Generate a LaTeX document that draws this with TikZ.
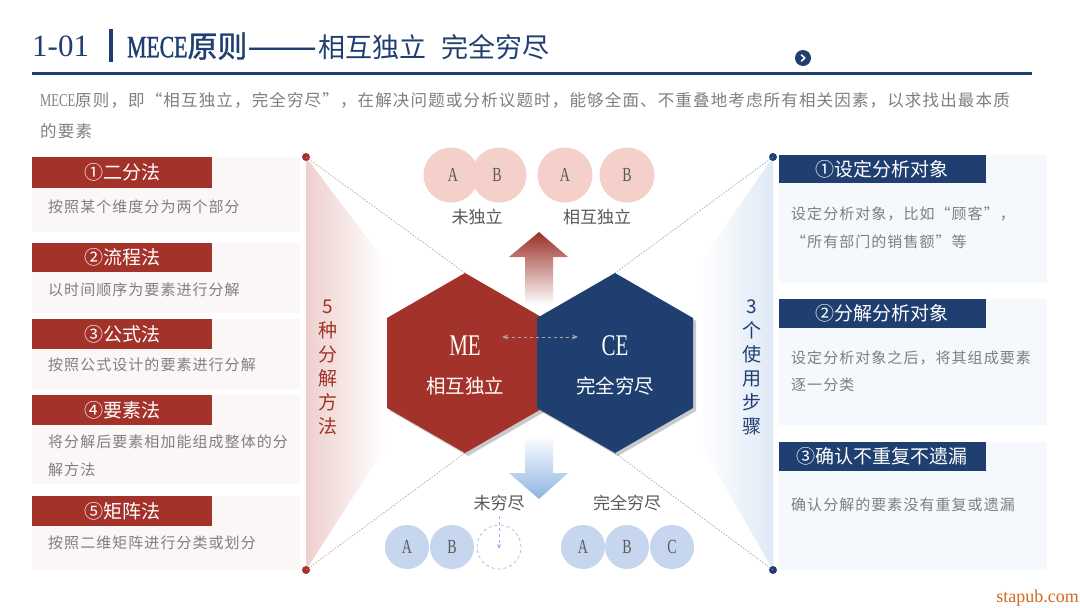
\documentclass[tikz,border=0pt]{standalone}
\usepackage{fontspec}
\setmainfont{Noto Sans CJK SC}
\newfontfamily\spf[LetterSpace=7]{Noto Sans CJK SC}
\newfontfamily\cjkb[FakeBold=1.2]{Noto Sans CJK SC}
\newfontfamily\latc[FakeStretch=0.7]{Liberation Serif}
\newfontfamily\latcb[FakeStretch=0.7,FakeBold=1.2]{Liberation Serif}
\newfontfamily\latn{Liberation Serif}
\usetikzlibrary{shadows,arrows.meta}
\newcommand\fsz[1]{\fontsize{#1}{#1}\selectfont}
\newcommand\fszl[2]{\fontsize{#1}{#2}\selectfont}
\definecolor{mred}{HTML}{A3322A}
\definecolor{mnavy}{HTML}{1F3F70}
\definecolor{tgrey}{HTML}{7F7F7F}
\definecolor{dgrey}{HTML}{595959}
\definecolor{pinkc}{HTML}{F5D0CB}
\definecolor{bluec}{HTML}{C6D6EE}
\definecolor{lbg}{HTML}{FBF7F6}
\definecolor{rbg}{HTML}{F5F8FC}
\definecolor{wedgered}{HTML}{EDD0CD}
\definecolor{wedgeblue}{HTML}{E0E9F6}
\definecolor{arrblue}{HTML}{8DB4E2}
\definecolor{wmark}{HTML}{D2691E}
\begin{document}
\begin{tikzpicture}[x=1pt,y=-1pt,
  every node/.style={inner sep=0pt},
  lbgbox/.style={fill=lbg,draw=none},
  rbgbox/.style={fill=rbg,draw=none},
  redhead/.style={fill=mred,draw=none},
  bluehead/.style={fill=mnavy,draw=none},
  htext/.style={text=white,font=\fsz{19}},
  dtext/.style={text=tgrey,font=\spf\fsz{15},anchor=west},
  vtext/.style={font=\fszl{19}{24},align=center},
  dotline/.style={dash pattern=on 1.5pt off 1.5pt,line width=0.6pt},
  enddot/.style={circle,minimum size=8pt},
  pinkcirc/.style={circle,fill=pinkc,minimum size=55pt},
  bluecirc/.style={circle,fill=bluec,minimum size=44pt},
  abc/.style={text=dgrey,font=\latc\fsz{20}},
  clabel/.style={text=dgrey,font=\fsz{17}},
  ttl/.style={anchor=west,text=mnavy},
  hexshadow/.style={drop shadow={shadow xshift=3pt,shadow yshift=-3pt,opacity=0.35,fill=black!60}}
]
\useasboundingbox (0,0) rectangle (1080,608);
\fill[white] (0,0) rectangle (1080,608);

% ---------- title ----------
\node[ttl,font=\latn\fsz{31}] (tnum) at (32,46) {1-01};
\fill[mnavy] (109,29) rectangle (113,62);
\node[ttl,font=\cjkb\fsz{30}] (ttxt) at (127,46) {{\latcb\fsz{31}MECE}原则\scalebox{1.38}[1]{——}};
\node[ttl,font=\fsz{27}] (ttxt2) at (318,47) {相互独立};
\node[ttl,font=\fsz{27}] (ttxt3) at (441,47) {完全穷尽};
\draw[mnavy,line width=3pt] (32,73) -- (1032,73);
\node[circle,fill=mnavy,minimum size=16pt] (icon) at (803,58) {};
\draw[white,line width=1.6pt,line cap=round,line join=round] ([xshift=-1.5pt,yshift=3pt]icon.center) -- ([xshift=1.8pt]icon.center) -- ([xshift=-1.5pt,yshift=-3pt]icon.center);

% ---------- subtitle ----------
\node[anchor=west,text=tgrey,font=\spf\fsz{16.5}] (sub1) at (40,100) {{\latc\fsz{18}MECE}原则，即“相互独立，完全穷尽”，在解决问题或分析议题时，能够全面、不重叠地考虑所有相关因素，以求找出最本质};
\node[anchor=west,text=tgrey,font=\spf\fsz{16.5}] (sub2) at (40,131) {的要素};

% ---------- wedges ----------
\shade[left color=wedgered,right color=white] (306,157) -- (385,262) -- (385,447) -- (306,570) -- cycle;
\shade[left color=white,right color=wedgeblue] (773,157) -- (700,263) -- (700,443) -- (773,570) -- cycle;

% ---------- left boxes ----------
\fill[lbgbox] (32,157) rectangle (300,232);
\fill[lbgbox] (32,243) rectangle (300,313);
\fill[lbgbox] (32,319) rectangle (300,389);
\fill[lbgbox] (32,395) rectangle (300,484);
\fill[lbgbox] (32,496) rectangle (300,570);
\fill[redhead] (32,157) rectangle (212,188);
\fill[redhead] (32,243) rectangle (212,272);
\fill[redhead] (32,319) rectangle (212,349);
\fill[redhead] (32,395) rectangle (212,425);
\fill[redhead] (32,496) rectangle (212,526);
\node[htext] (l1h) at (122,172) {①二分法};
\node[htext] (l2h) at (122,257.5) {②流程法};
\node[htext] (l3h) at (122,334) {③公式法};
\node[htext] (l4h) at (122,410) {④要素法};
\node[htext] (l5h) at (122,511) {⑤矩阵法};
\node[dtext] (l1d) at (48,207) {按照某个维度分为两个部分};
\node[dtext] (l2d) at (48,290) {以时间顺序为要素进行分解};
\node[dtext] (l3d) at (48,365) {按照公式设计的要素进行分解};
\node[dtext] (l4d) at (48,442) {将分解后要素相加能组成整体的分};
\node[dtext] (l4e) at (48,470) {解方法};
\node[dtext] (l5d) at (48,543) {按照二维矩阵进行分类或划分};

% ---------- right boxes ----------
\fill[rbgbox] (779,155) rectangle (1047,283);
\fill[rbgbox] (779,299) rectangle (1047,425);
\fill[rbgbox] (779,442) rectangle (1047,570);
\fill[bluehead] (779,155) rectangle (986,183);
\fill[bluehead] (779,299) rectangle (986,328);
\fill[bluehead] (779,442) rectangle (986,471);
\node[htext] (r1h) at (882,169) {①设定分析对象};
\node[htext] (r2h) at (882,313.5) {②分解分析对象};
\node[htext] (r3h) at (882,456.5) {③确认不重复不遗漏};
\node[dtext] (r1d) at (791,214) {设定分析对象，比如“顾客”，};
\node[dtext] (r1e) at (791,242) {“所有部门的销售额”等};
\node[dtext] (r2d) at (791,358) {设定分析对象之后，将其组成要素};
\node[dtext] (r2e) at (791,385) {逐一分类};
\node[dtext] (r3d) at (791,505) {确认分解的要素没有重复或遗漏};

% ---------- vertical labels ----------
\node[vtext,text=mred] (lv) at (328,367) {5\\种\\分\\解\\方\\法};
\node[vtext,text=mnavy] (rv) at (752,367) {3\\个\\使\\用\\步\\骤};

% ---------- hexagon corner coordinates ----------
\coordinate (meT) at (465,273);
\coordinate (meB) at (465,453);
\coordinate (ceT) at (615,273);
\coordinate (ceB) at (615,453);

% ---------- end dots and dotted lines ----------
\node[enddot,fill=mred] (ldt) at (306,157) {};
\node[enddot,fill=mred] (ldb) at (306,570) {};
\node[enddot,fill=mnavy] (rdt) at (773,157) {};
\node[enddot,fill=mnavy] (rdb) at (773,570) {};
\draw[dotline,mred!55] (ldt.center) -- (meT);
\draw[dotline,mred!55] (ldb.center) -- (meB);
\draw[dotline,mnavy!50] (rdt.center) -- (ceT);
\draw[dotline,mnavy!50] (rdb.center) -- (ceB);

% ---------- big arrows ----------
\shade[top color=mred!95!black,bottom color=white] (539,232) -- (568,257) -- (553,257) -- (553,305) -- (525,305) -- (525,257) -- (509,257) -- cycle;
\shade[top color=white,bottom color=arrblue] (525,435) -- (553,435) -- (553,473) -- (568,473) -- (539,499) -- (509,473) -- (525,473) -- cycle;

% ---------- hexagons ----------
\fill[mred,hexshadow] (465,273) -- (543,318) -- (543,408) -- (465,453) -- (387,408) -- (387,318) -- cycle;
\fill[mnavy,hexshadow] (615,273) -- (693,318) -- (693,408) -- (615,453) -- (537,408) -- (537,318) -- cycle;
\node[text=white,font=\latc\fsz{30}] (me) at (465,346) {ME};
\node[text=white,font=\fsz{19.5}] (mez) at (465,386) {相互独立};
\node[text=white,font=\latc\fsz{30}] (ce) at (615,346) {CE};
\node[text=white,font=\fsz{19.5}] (cez) at (615,386) {完全穷尽};
\coordinate (dal) at (502,337);
\coordinate (dar) at (578,337);
\draw[dashed,black!35,line width=0.8pt,{Stealth[length=6pt,width=5pt]}-{Stealth[length=6pt,width=5pt]}] (dal) -- (dar);

% ---------- top circles ----------
\node[pinkcirc] (pa1) at (451,175) {};
\node[pinkcirc] (pb1) at (499,175) {};
\node[pinkcirc] (pa2) at (565,175) {};
\node[pinkcirc] (pb2) at (627,175) {};
\node[abc] (ta1) at (453,175) {A};
\node[abc] (tb1) at (497,175) {B};
\node[abc] (ta2) at (565,175) {A};
\node[abc] (tb2) at (627,175) {B};
\node[clabel] (lab1) at (477,217) {未独立};
\node[clabel] (lab2) at (597,217) {相互独立};

% ---------- bottom circles ----------
\node[bluecirc] (ba1) at (407,547) {};
\node[bluecirc] (bb1) at (452,547) {};
\node[circle,draw=arrblue!80,dashed,line width=0.8pt,minimum size=44pt] (bx1) at (499,547) {};
\node[bluecirc] (ba2) at (583,547) {};
\node[bluecirc] (bb2) at (627,547) {};
\node[bluecirc] (bc2) at (672,547) {};
\node[abc] (sa1) at (407,547) {A};
\node[abc] (sb1) at (452,547) {B};
\node[abc] (sa2) at (583,547) {A};
\node[abc] (sb2) at (627,547) {B};
\node[abc] (sc2) at (672,547) {C};
\coordinate (xs) at (499,516);
\coordinate (xe) at (499,549);
\draw[dashed,arrblue,line width=0.8pt,-{Stealth[length=5pt,width=4pt]}] (xs) -- (xe);
\node[clabel] (lab3) at (499,503) {未穷尽};
\node[clabel] (lab4) at (627,503) {完全穷尽};

% ---------- watermark ----------
\node[anchor=east,text=wmark,font=\latn\fsz{18}] (wm) at (1079,598) {stapub.com};
\end{tikzpicture}
\end{document}
